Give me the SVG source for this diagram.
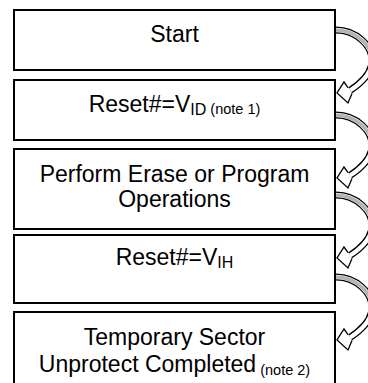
<svg xmlns="http://www.w3.org/2000/svg" xmlns:xlink="http://www.w3.org/1999/xlink" width="368" height="383" viewBox="0 0 368 383">
<style>
.box{fill:#fff;stroke:#000;stroke-width:2}
.t{font-family:"Liberation Sans",Arial,sans-serif;font-size:23px;fill:#000;text-anchor:middle}
.sub{font-size:16px}
.note{font-size:14.5px}
.sh-o{fill:none;stroke:#000;stroke-width:7}
.sh-i{fill:none;stroke:#fff;stroke-width:4.4}
.sh-g{fill:none;stroke:#b4b4b4;stroke-width:3.6}
.hd{fill:#fff;stroke:#000;stroke-width:1.3;stroke-linejoin:miter}
</style>
<defs>
<g id="carrow">
<path class="sh-o" d="M336,0 C356,0 373,16 372,32 C371,44 360,54 350,60.5"/>
<path class="sh-i" d="M336,0 C356,0 373,16 372,32 C371,44 360,54 350,60.5"/>
<path class="sh-g" d="M335,0 C356,0 373,16 372,32"/>
<path class="hd" d="M348,57.6 L344,52 L337,63 L348,73 L352,63.4"/>
</g>
</defs>
<rect width="368" height="383" fill="#fff"/>
<g id="connectors">
<use xlink:href="#carrow" transform="translate(0,30)"/>
<use xlink:href="#carrow" transform="translate(0,115)"/>
<use xlink:href="#carrow" transform="translate(0,195)"/>
<use xlink:href="#carrow" transform="translate(0,277)"/>
</g>
<g id="start">
<rect class="box" x="14" y="10" width="321" height="60"/>
<text class="t" x="174.5" y="42">Start</text>
</g>
<g id="reset-vid">
<rect class="box" x="14" y="80" width="321" height="60"/>
<text class="t" x="174.5" y="112">Reset#=V<tspan class="sub" dy="3">ID</tspan><tspan class="note" dy="-1"> (note 1)</tspan></text>
</g>
<g id="perform">
<rect class="box" x="14" y="149" width="321" height="80"/>
<text class="t" x="174.5" y="182">Perform Erase or Program</text>
<text class="t" x="174.5" y="207">Operations</text>
</g>
<g id="reset-vih">
<rect class="box" x="14" y="235" width="321" height="68"/>
<text class="t" x="174.5" y="265">Reset#=V<tspan class="sub" dy="3">IH</tspan></text>
</g>
<g id="completed">
<rect class="box" x="14" y="312" width="321" height="90"/>
<text class="t" x="174.5" y="345">Temporary Sector</text>
<text class="t" x="174.5" y="372">Unprotect Completed<tspan class="note" dy="3"> (note 2)</tspan></text>
</g>
</svg>
